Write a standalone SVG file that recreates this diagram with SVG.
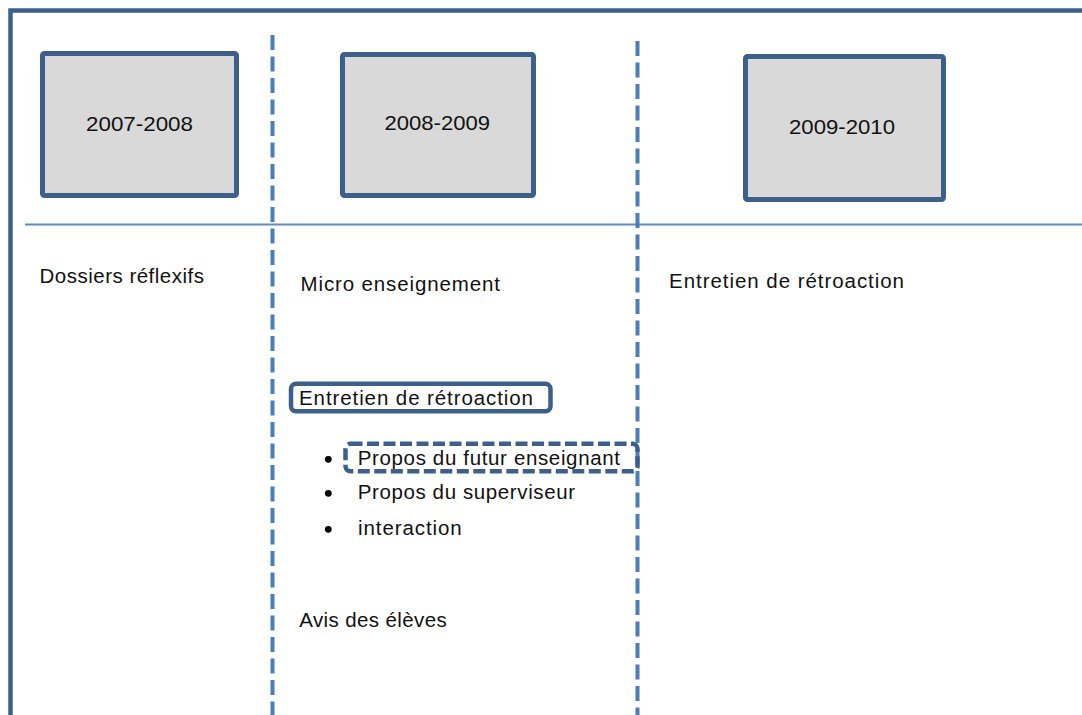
<svg xmlns="http://www.w3.org/2000/svg" width="1082" height="715" viewBox="0 0 1082 715">
<style>
  .frame { fill: none; stroke: #3c5f8c; stroke-width: 4.5; }
  .year { fill: #d9d9d9; stroke: #3c5f8c; stroke-width: 5; }
  .col { fill: none; stroke: #4a7ebb; stroke-width: 4; stroke-dasharray: 15 6.5; }
  .sep { fill: none; stroke: #5b8bc6; stroke-width: 1.8; }
  .t { font-family: "Liberation Sans", Arial, sans-serif; font-size: 20.5px; fill: #111111; }
  .hl { fill: #ffffff; stroke: #3c5f8c; stroke-width: 4.5; }
  .hld { fill: none; stroke: #3c5f8c; stroke-width: 4.5; stroke-dasharray: 12 4.5; }
  .bul { fill: #000000; }
</style>
<rect width="1082" height="715" fill="#ffffff"/>
<g id="frame">
  <path class="frame" d="M10.5 715 V10.5 H1082"/>
</g>
<g id="connectors">
  <line class="sep" x1="25" y1="224.5" x2="1082" y2="224.5"/>
  <line class="col" x1="272.5" y1="35" x2="272.5" y2="715"/>
  <line class="col" x1="637.5" y1="41" x2="637.5" y2="715"/>
</g>
<g id="node-2007">
  <rect class="year" x="42.5" y="53.5" width="194" height="142" rx="2"/>
  <text class="t" x="86" y="130.5" textLength="107" lengthAdjust="spacingAndGlyphs">2007-2008</text>
</g>
<g id="node-2008">
  <rect class="year" x="342.5" y="54.5" width="191" height="141" rx="2"/>
  <text class="t" x="384.5" y="130" textLength="105.5" lengthAdjust="spacingAndGlyphs">2008-2009</text>
</g>
<g id="node-2009">
  <rect class="year" x="745.5" y="56.5" width="198" height="143" rx="2"/>
  <text class="t" x="789" y="134" textLength="106" lengthAdjust="spacingAndGlyphs">2009-2010</text>
</g>
<g id="col1">
  <text class="t" x="39.5" y="283" textLength="164.5" lengthAdjust="spacing">Dossiers réflexifs</text>
</g>
<g id="col2">
  <text class="t" x="300.5" y="290.5" textLength="199.5" lengthAdjust="spacing">Micro enseignement</text>
  <g id="entretien-box">
    <rect class="hl" x="291" y="383.8" width="259.5" height="27.5" rx="5"/>
    <text class="t" x="299" y="405" textLength="234" lengthAdjust="spacing">Entretien de rétroaction</text>
  </g>
  <g id="propos-box">
    <rect class="hld" x="345.5" y="443.8" width="292" height="27.5" rx="5"/>
  </g>
  <circle class="bul" cx="328.3" cy="459.3" r="3.4"/>
  <circle class="bul" cx="328.3" cy="493.3" r="3.4"/>
  <circle class="bul" cx="328.3" cy="529.3" r="3.4"/>
  <text class="t" x="357.7" y="465" textLength="262.3" lengthAdjust="spacing">Propos du futur enseignant</text>
  <text class="t" x="357.7" y="498.5" textLength="217.3" lengthAdjust="spacing">Propos du superviseur</text>
  <text class="t" x="358" y="535" textLength="103.7" lengthAdjust="spacing">interaction</text>
  <text class="t" x="299.3" y="626.7" textLength="147.4" lengthAdjust="spacing">Avis des élèves</text>
</g>
<g id="col3">
  <text class="t" x="669" y="287.5" textLength="235" lengthAdjust="spacing">Entretien de rétroaction</text>
</g>
</svg>
